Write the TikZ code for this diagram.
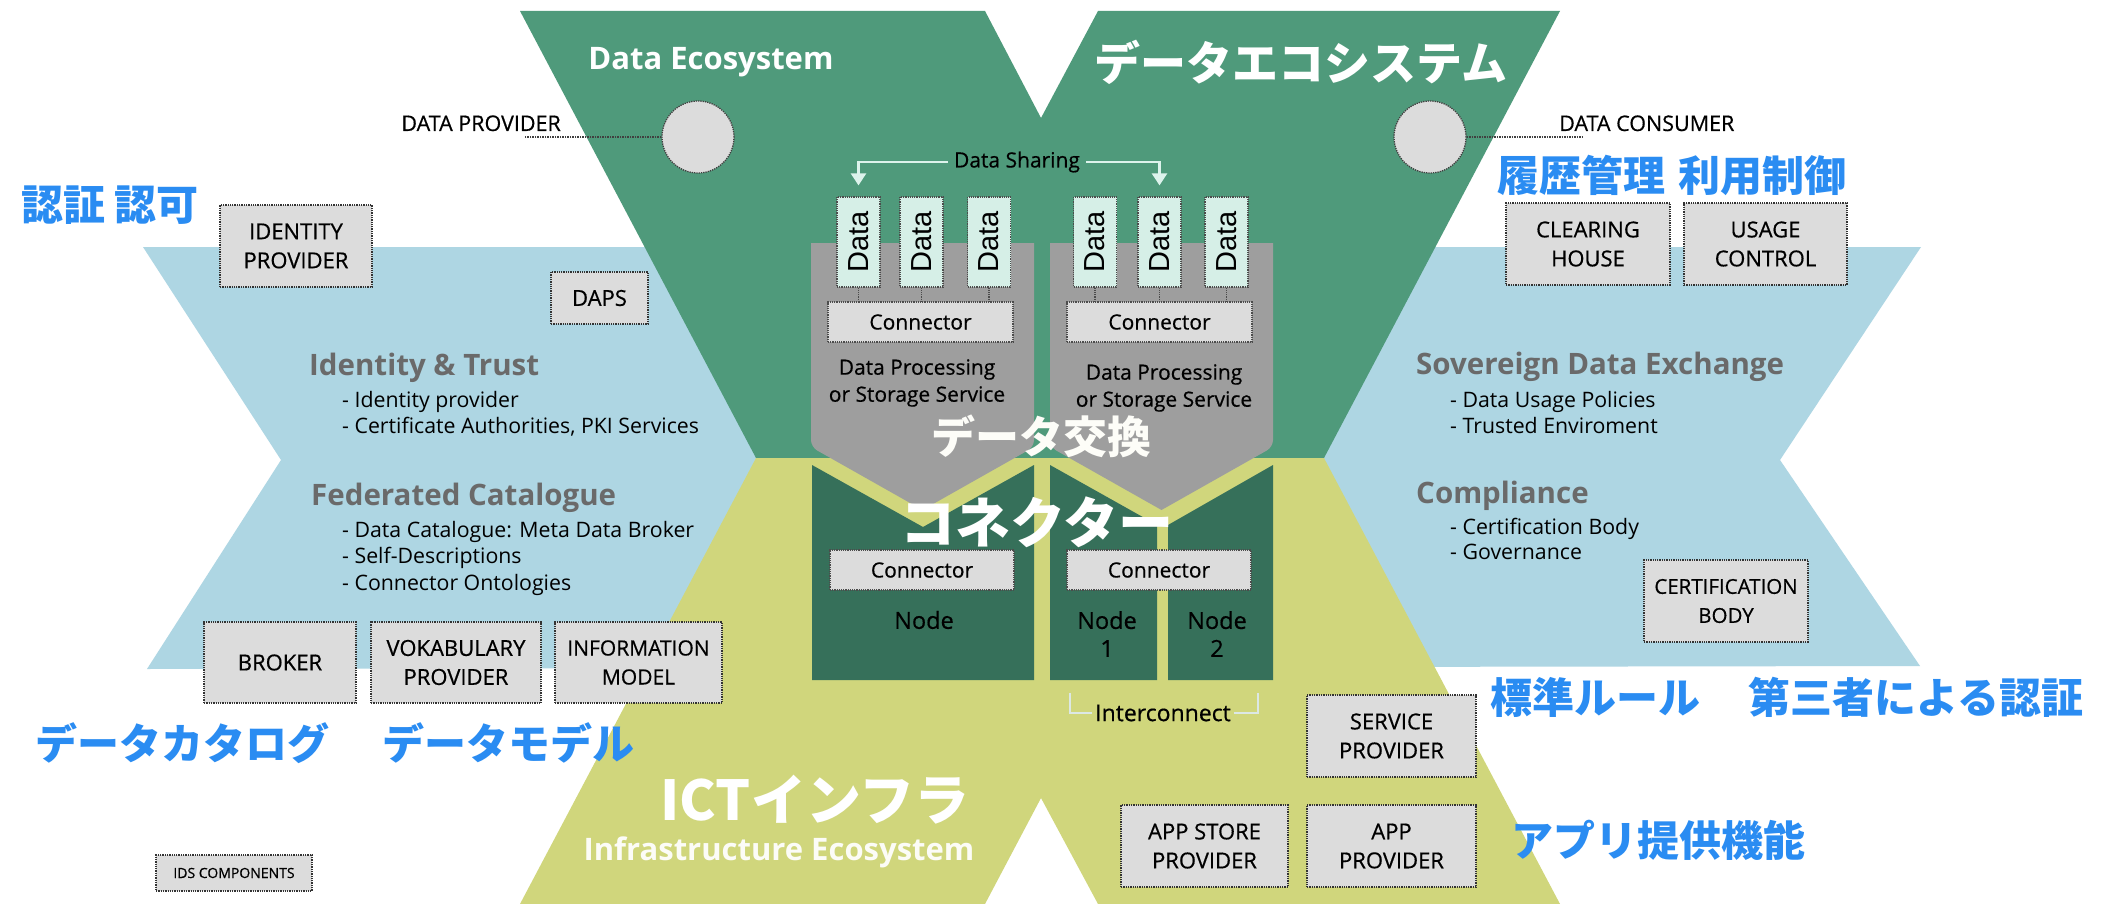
\documentclass[tikz,border=0pt]{standalone}
\usepackage{fontspec}
\usepackage{graphicx}
\setmainfont{Open Sans}
\newfontfamily\semi{Open Sans}[FakeBold=0.5]
\newfontfamily\jp{Noto Sans CJK JP}
\newfontfamily\arialf{Liberation Sans}
\usetikzlibrary{arrows.meta}
\definecolor{ecogreen}{HTML}{4F9A7B}
\definecolor{infra}{HTML}{D0D67C}
\definecolor{band}{HTML}{AED6E3}
\definecolor{procgray}{HTML}{9E9E9E}
\definecolor{nodegreen}{HTML}{36705A}
\definecolor{boxgray}{HTML}{DCDCDC}
\definecolor{datafill}{HTML}{D6EFE7}
\definecolor{jpblue}{HTML}{2A8CF2}
\definecolor{headgray}{HTML}{6A6A6A}
\definecolor{mint}{HTML}{DDF3EC}
\definecolor{brkcol}{HTML}{DCE8E4}
\begin{document}
\begin{tikzpicture}[x=1pt,y=-1pt,
 compbox/.style={draw=black!80, densely dotted, line width=1.3pt, fill=boxgray, align=center, inner sep=0pt, font=\semi\fontsize{22}{29}\selectfont},
 databox/.style={draw=black!70, densely dotted, line width=1.2pt, fill=datafill, minimum width=43, minimum height=90, inner sep=0pt, font=\arialf\fontsize{29}{30}\selectfont},
 connbox/.style={draw=black!70, densely dotted, line width=1.2pt, fill=boxgray, minimum width=185, minimum height=40, inner sep=0pt, font=\semi\fontsize{21}{25}\selectfont},
 role/.style={draw=black!75, densely dotted, line width=1.3pt, fill=boxgray, circle, minimum size=72, inner sep=0pt},
 rolelabel/.style={font=\semi\fontsize{21.5}{24}\selectfont, inner sep=0pt},
 heading/.style={font=\bfseries\fontsize{29.5}{32}\selectfont, text=headgray, inner sep=0pt, anchor=base west},
 bullet/.style={font=\fontsize{21.3}{24}\selectfont, inner sep=0pt, anchor=base west},
 jplabel/.style={font=\jp\bfseries\fontsize{42}{46}\selectfont, text=jpblue, inner sep=0pt},
 jpwhite/.style={font=\jp\bfseries, text=white, inner sep=0pt},
 title/.style={font=\bfseries\fontsize{31}{34}\selectfont, text=white, inner sep=0pt},
 proctext/.style={align=center, font=\semi\fontsize{21}{27}\selectfont, inner sep=0pt},
 nodetext/.style={align=center, font=\semi\fontsize{23.5}{28}\selectfont, inner sep=0pt},
 share/.style={draw=mint, line width=2.5pt, -{Triangle[width=15pt,length=12pt]}, shorten >=11pt},
 dotline/.style={draw=black!70, densely dotted, line width=1.2pt},
 roleline/.style={draw=black!75, densely dotted, line width=1.5pt},
 brk/.style={draw=brkcol, line width=2.5pt}
]
\useasboundingbox (0,0) rectangle (2120,904);
\fill[white] (0,0) rectangle (2120,904);
% horizontal band
\fill[band] (143,247) -- (1921,247) -- (1780,460) -- (1920,666) -- (147,669) -- (281,460) -- cycle;
% data ecosystem
\fill[ecogreen] (520,11) -- (985,11) -- (1041,118) -- (1098,11) -- (1560,11) -- (1324,458) -- (756,458) -- cycle;
% infrastructure ecosystem
\fill[infra] (756,458) -- (1324,458) -- (1560,904) -- (1098,904) -- (1041,798) -- (985,904) -- (520,904) -- cycle;
% node blocks
\fill[nodegreen] (812,465) -- (923,527) -- (1034,465) -- (1034,680) -- (812,680) -- cycle;
\fill[nodegreen] (1050,465) -- (1157,525) -- (1157,680) -- (1050,680) -- cycle;
\fill[nodegreen] (1168,525) -- (1273,465) -- (1273,680) -- (1168,680) -- cycle;
% processing services
\fill[procgray] (811,243) -- (1034,243) [rounded corners=7pt] -- (1034,447) [sharp corners] -- (922.5,510) [rounded corners=7pt] -- (811,447) [sharp corners] -- cycle;
\fill[procgray] (1050,243) -- (1273,243) [rounded corners=7pt] -- (1273,447) [sharp corners] -- (1161.5,510) [rounded corners=7pt] -- (1050,447) [sharp corners] -- cycle;

% titles
\node[title] (dEco) at (711,62) {Data Ecosystem};
\node[jpwhite, font=\jp\bfseries\fontsize{46}{50}\selectfont] (dEcoJ) at (1301,62) {データエコシステム};
\node[title, text=white!94!infra, font=\bfseries\fontsize{31}{34}\selectfont] (iEco) at (779,852) {Infrastructure Ecosystem};
\node[jpwhite, font=\jp\bfseries\fontsize{55}{60}\selectfont] (ictJ) at (815,800) {ICTインフラ};

% roles
\node[role] (prov) at (698,137) {};
\node[role] (cons) at (1430,137) {};
\coordinate (provEnd) at (525,137);
\coordinate (consEnd) at (1583,137);
\draw[roleline] (prov.west) -- (provEnd);
\draw[roleline] (cons.east) -- (consEnd);
\node[rolelabel, anchor=base east] (provL) at (561,131) {DATA PROVIDER};
\node[rolelabel, anchor=base west] (consL) at (1559,131) {DATA CONSUMER};

% data sharing
\node[databox] (d1) at (858.5,242) {\rotatebox{90}{Data}};
\node[databox] (d2) at (921.5,242) {\rotatebox{90}{Data}};
\node[databox] (d3) at (989,242) {\rotatebox{90}{Data}};
\node[databox] (d4) at (1095,242) {\rotatebox{90}{Data}};
\node[databox] (d5) at (1159.5,242) {\rotatebox{90}{Data}};
\node[databox] (d6) at (1226.5,242) {\rotatebox{90}{Data}};
\node[connbox] (c1) at (920.5,322) {Connector};
\node[connbox] (c2) at (1159.5,322) {Connector};
\foreach \d/\c in {d1/c1,d2/c1,d3/c1,d4/c2,d5/c2,d6/c2}
  \draw[dotline] (\d.south) -- (\d.south |- \c.north);
\node[font=\semi\fontsize{21}{24}\selectfont, inner xsep=6pt, inner ysep=0pt] (ds) at (1017,162) {Data Sharing};
\draw[share] (ds.west) -| (d1.north);
\draw[share] (ds.east) -| (d5.north);
\node[proctext] (p1) at (917,383) {Data Processing\\or Storage Service};
\node[proctext] (p2) at (1164,388) {Data Processing\\or Storage Service};
\node[jpwhite, text=white!95!infra, font=\jp\bfseries\fontsize{44}{48}\selectfont] (xchg) at (1041,436) {データ交換};

% nodes
\node[connbox, minimum width=184] (c3) at (922,570) {Connector};
\node[connbox, minimum width=184] (c4) at (1159,570) {Connector};
\node[jpwhite, font=\jp\bfseries\fontsize{55}{60}\selectfont] (connJ) at (1037,522) {コネクター};
\node[nodetext] (n0) at (924,620) {Node};
\node[nodetext] (n1) at (1107,634) {Node\\1};
\node[nodetext] (n2) at (1217,634) {Node\\2};
\node[font=\semi\fontsize{23}{24}\selectfont, inner xsep=3pt, inner ysep=0pt] (ic) at (1163,713) {Interconnect};
\coordinate (icl) at (1070,693);
\coordinate (icr) at (1258,693);
\draw[brk] (ic.west) -| (icl);
\draw[brk] (ic.east) -| (icr);

% left band text
\node[heading] (hIT) at (309,375) {Identity \& Trust};
\node[bullet] (bIT1) at (342,407) {- Identity provider};
\node[bullet] (bIT2) at (342,433) {- Certificate Authorities, PKI Services};
\node[heading] (hFC) at (311,505) {Federated Catalogue};
\node[bullet] (bFC1) at (342,537) {- Data Catalogue: Meta Data Broker};
\node[bullet] (bFC2) at (342,563) {- Self-Descriptions};
\node[bullet] (bFC3) at (342,590) {- Connector Ontologies};
% right band text
\node[heading] (hSD) at (1416,374) {Sovereign Data Exchange};
\node[bullet] (bSD1) at (1450,407) {- Data Usage Policies};
\node[bullet] (bSD2) at (1450,433) {- Trusted Enviroment};
\node[heading] (hCO) at (1416,503) {Compliance};
\node[bullet] (bCO1) at (1450,534) {- Certification Body};
\node[bullet] (bCO2) at (1450,559) {- Governance};

% components
\node[compbox, minimum width=152, minimum height=82] (idp) at (296,246) {IDENTITY\\PROVIDER};
\node[compbox, minimum width=97, minimum height=52] (daps) at (599.5,298) {DAPS};
\node[compbox, minimum width=152, minimum height=81] (broker) at (280,662.5) {BROKER};
\node[compbox, minimum width=170, minimum height=81] (vocab) at (456,662.5) {VOKABULARY\\PROVIDER};
\node[compbox, minimum width=167, minimum height=81, font=\semi\fontsize{21}{29}\selectfont] (infom) at (638.5,662.5) {INFORMATION\\MODEL};
\node[compbox, minimum width=156, minimum height=36, font=\semi\fontsize{14}{18}\selectfont] (ids) at (234,873) {IDS COMPONENTS};
\node[compbox, minimum width=164, minimum height=82] (clear) at (1588,244) {CLEARING\\HOUSE};
\node[compbox, minimum width=163, minimum height=82] (usage) at (1765.5,244) {USAGE\\CONTROL};
\node[compbox, minimum width=164, minimum height=82, font=\semi\fontsize{20.5}{29}\selectfont] (cert) at (1726,601) {CERTIFICATION\\BODY};
\node[compbox, minimum width=169, minimum height=82] (serv) at (1391.5,736) {SERVICE\\PROVIDER};
\node[compbox, minimum width=167, minimum height=82] (appst) at (1204.5,846) {APP STORE\\PROVIDER};
\node[compbox, minimum width=169, minimum height=82] (app) at (1391.5,846) {APP\\PROVIDER};

% japanese annotations
\node[jplabel] (jAuth) at (110,205) {認証 認可};
\node[jplabel] (jHist) at (1672,175) {履歴管理\hspace{4pt} 利用制御};
\node[jplabel] (jCat) at (182,743) {データカタログ};
\node[jplabel] (jMod) at (508,743) {データモデル};
\node[jplabel] (jStd) at (1595,697) {標準ルール};
\node[jplabel] (jThird) at (1916,697) {第三者による認証};
\node[jplabel] (jApp) at (1658,840) {アプリ提供機能};
\end{tikzpicture}
\end{document}
